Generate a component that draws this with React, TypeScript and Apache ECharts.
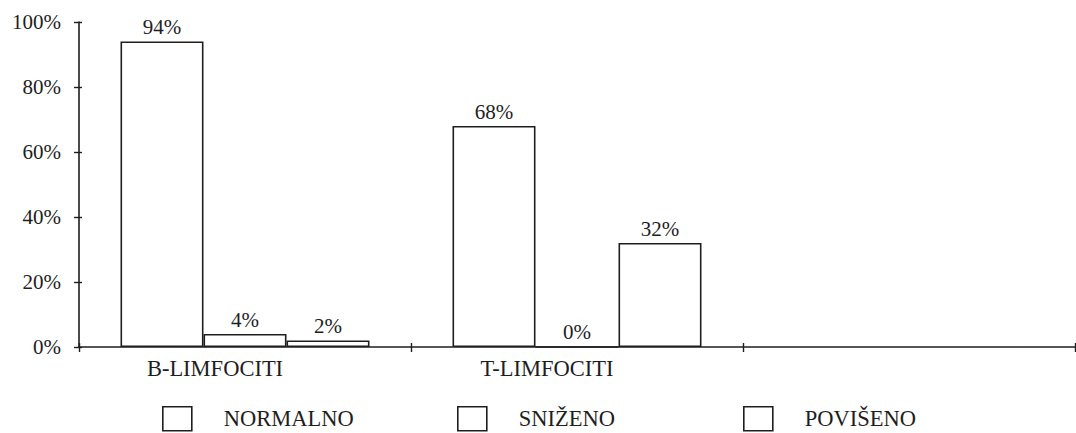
import React, { useEffect, useRef } from "react";
import * as echarts from "echarts";

const categories = ["B-LIMFOCITI", "T-LIMFOCITI", ""];
const seriesNames = ["NORMALNO", "SNIŽENO", "POVIŠENO"];
const normalno = [94, 68];
const snizeno = [4, 0];
const poviseno = [2, 32];
const seriesValues = [normalno, snizeno, poviseno];

const FONT = "Liberation Serif";
const INK = "#1e1e1e";
const legendLefts = [162, 457, 743];

export default function App() {
  const ref = useRef<HTMLDivElement>(null);
  useEffect(() => {
    if (!ref.current) return;
    const chart = echarts.init(ref.current, null, { renderer: "svg" });
    const barStyle = { color: "#ffffff", borderColor: INK, borderWidth: 1.6 };
    chart.setOption({
      animation: false,
      backgroundColor: "#ffffff",
      grid: { left: 79, right: 1, top: 22, bottom: 86, containLabel: false },
      xAxis: [
        {
          type: "category",
          data: categories,
          position: "bottom",
          axisLine: { lineStyle: { color: INK, width: 1.6 } },
          axisTick: { show: true, length: 5, lineStyle: { color: INK, width: 1.4 } },
          axisLabel: {
            fontFamily: FONT,
            fontSize: 22.5,
            color: INK,
            margin: 10,
            padding: [0, 60, 0, 0],
          },
        },
        {
          type: "category",
          data: categories,
          position: "bottom",
          axisLine: { show: false },
          axisTick: { show: true, inside: true, length: 4, lineStyle: { color: INK, width: 1.4 } },
          axisLabel: { show: false },
        },
      ],
      yAxis: [
        {
          type: "value",
          min: 0,
          max: 100,
          interval: 20,
          position: "left",
          axisLine: { show: true, lineStyle: { color: INK, width: 1.6 } },
          axisTick: { show: true, length: 5, lineStyle: { color: INK, width: 1.4 } },
          splitLine: { show: false },
          axisLabel: {
            formatter: "{value}%",
            fontFamily: FONT,
            fontSize: 21,
            color: INK,
            margin: 18,
          },
        },
        {
          type: "value",
          min: 0,
          max: 100,
          interval: 20,
          position: "left",
          axisLine: { show: false },
          axisTick: { show: true, inside: true, length: 3, lineStyle: { color: INK, width: 1.4 } },
          splitLine: { show: false },
          axisLabel: { show: false },
        },
      ],
      legend: seriesNames.map((n, i) => ({
        data: [n],
        left: legendLefts[i],
        top: 406,
        padding: 0,
        icon: "rect",
        itemWidth: 29,
        itemHeight: 24,
        selectedMode: false,
        itemStyle: { color: "#ffffff", borderColor: INK, borderWidth: 1.6 },
        textStyle: { fontFamily: FONT, fontSize: 22.5, color: INK, padding: [0, 0, 0, 27] },
      })),
      series: seriesNames.map((n, i) => ({
        name: n,
        type: "bar",
        data: seriesValues[i],
        barGap: "0%",
        barCategoryGap: "25%",
        itemStyle: barStyle,
        label: {
          show: true,
          position: "top",
          distance: 4,
          formatter: "{c}%",
          fontFamily: FONT,
          fontSize: 21,
          color: INK,
        },
      })),
    });
    return () => chart.dispose();
  }, []);
  return (
    <div
      ref={ref}
      style={{ position: "fixed", left: 0, top: 0, width: 1076, height: 433, background: "#fff" }}
    />
  );
}
